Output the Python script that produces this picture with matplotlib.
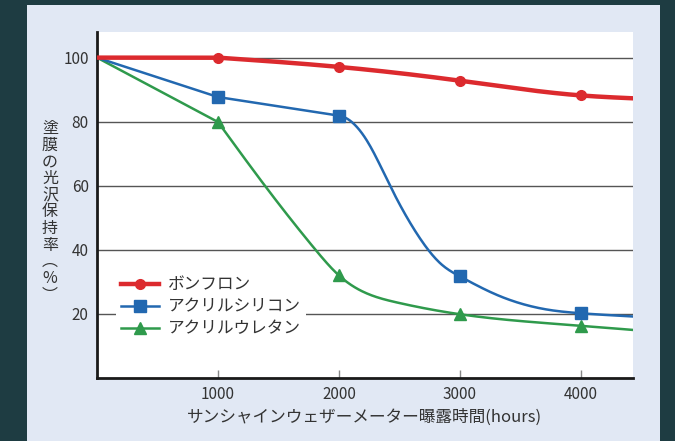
import numpy as np
import matplotlib
matplotlib.use("Agg")
import matplotlib.pyplot as plt
from matplotlib.patches import Rectangle

plt.rcParams['font.family'] = ['Noto Sans CJK JP', 'DejaVu Sans']

# values (hours, gloss retention %)
bonflon_x = [0, 1000, 2000, 3000, 4000, 4430]
bonflon_y = [100, 100, 97.1, 92.8, 88.2, 87.3]
silicone_x = [0, 1000, 2000, 2242, 2421, 2655, 2849, 3000, 3289, 3730, 4000, 4430]
silicone_y = [100, 87.7, 81.9, 73.4, 60.1, 44.4, 35.4, 31.7, 26.2, 21.3, 20.2, 19.2]
urethane_x = [0, 1000, 1388, 1802, 2000, 2476, 3000, 4000, 4430]
urethane_y = [100, 79.9, 60, 40.2, 32.0, 23.6, 19.9, 16.3, 15.0]
# where each line stops being straight and starts to curve
knees = [1000, 2000, 1000]
marker_hours = [1000, 2000, 3000, 4000]

labels = ['ボンフロン', 'アクリルシリコン', 'アクリルウレタン']
colors = ['#dc2a2e', '#2268b0', '#2f9a4c']
xticks = [1000, 2000, 3000, 4000]
yticks = [20, 40, 60, 80, 100]
xlabel = 'サンシャインウェザーメーター曝露時間(hours)'
ylabel = '塗膜の光沢保持率︵%︶'


def spline(x, y, xs, s0=None):
    # cubic spline through the read points (natural end, optional start slope)
    x = np.asarray(x, float)
    y = np.asarray(y, float)
    n = len(x)
    h = np.diff(x)
    d = np.diff(y) / h
    A = np.zeros((n, n))
    b = np.zeros(n)
    if s0 is None:
        A[0, 0] = 1
    else:
        A[0, 0], A[0, 1] = 2 * h[0], h[0]
        b[0] = 6 * (d[0] - s0)
    A[-1, -1] = 1
    for i in range(1, n - 1):
        A[i, i - 1] = h[i - 1]
        A[i, i] = 2 * (h[i - 1] + h[i])
        A[i, i + 1] = h[i]
        b[i] = 6 * (d[i] - d[i - 1])
    M = np.linalg.solve(A, b)
    i = np.clip(np.searchsorted(x, xs, side='right') - 1, 0, n - 2)
    a = x[i + 1] - xs
    c = xs - x[i]
    hi = h[i]
    return (M[i] * a**3 / (6 * hi) + M[i + 1] * c**3 / (6 * hi)
            + (y[i] / hi - M[i] * hi / 6) * a
            + (y[i + 1] / hi - M[i + 1] * hi / 6) * c)


def curve(x, y, xs, knee):
    # straight runs up to the knee, smooth after that
    x = np.asarray(x, float)
    y = np.asarray(y, float)
    head = x <= knee
    tail = x >= knee
    s0 = None
    if knee > 1000:
        s0 = (y[head][-1] - y[head][-2]) / (x[head][-1] - x[head][-2])
    return np.where(xs <= knee, np.interp(xs, x[head], y[head]),
                    spline(x[tail], y[tail], np.maximum(xs, knee), s0))


fig = plt.figure(figsize=(6.75, 4.41), dpi=100)
fig.patch.set_facecolor('#1e3c42')
fig.add_artist(Rectangle((27 / 675, 0), 633 / 675, 1 - 5 / 441,
                         transform=fig.transFigure, facecolor='#e1e8f4',
                         edgecolor='none', zorder=0))

ax = fig.add_axes([97 / 675, 1 - 378 / 441, 536 / 675, 346 / 441])
ax.set_facecolor('white')

xs = np.linspace(0, 4430, 444)
marks = [int(round(h / 10)) for h in marker_hours]
series = [(bonflon_x, bonflon_y, 'o', 7, 3.2, 4),
          (silicone_x, silicone_y, 's', 8, 1.8, 3),
          (urethane_x, urethane_y, '^', 8, 1.8, 2)]
for (sx, sy, mk, ms, lw, z), knee, lab, col in zip(series, knees, labels, colors):
    ax.plot(xs, curve(sx, sy, xs, knee), color=col, lw=lw, marker=mk, ms=ms,
            markevery=marks, label=lab, zorder=z)

ax.set_xlim(0, 4430)
ax.set_ylim(0, 108)
ax.set_xticks(xticks)
ax.set_yticks(yticks)
ax.yaxis.grid(True, color='#555555', lw=1.0)
ax.set_axisbelow(True)

for s in ['top', 'right']:
    ax.spines[s].set_visible(False)
ax.spines['left'].set_linewidth(2)
ax.spines['bottom'].set_linewidth(2)
ax.spines['left'].set_color('#1a1a1a')
ax.spines['bottom'].set_color('#1a1a1a')

ax.tick_params(axis='x', direction='in', length=6, width=1, color='#888888',
               labelsize=11, labelcolor='#333333', pad=6)
ax.tick_params(axis='y', length=0, labelsize=11, labelcolor='#333333', pad=6)

ax.set_xlabel(xlabel, fontsize=12, color='#333333', labelpad=4)
fig.text(50 / 675, 1 - 212 / 441, '\n'.join(ylabel), fontsize=11.5,
         color='#333333', ha='center', va='center', linespacing=0.97)

leg = ax.legend(loc='upper left', bbox_to_anchor=(0.02, 0.332), fontsize=12,
                frameon=True, facecolor='white', edgecolor='none',
                framealpha=1, handlelength=2.3, handletextpad=0.5,
                labelspacing=0.3, borderpad=0.3)
for t in leg.get_texts():
    t.set_color('#333333')

fig.savefig('out.png', dpi=100, facecolor=fig.get_facecolor())
